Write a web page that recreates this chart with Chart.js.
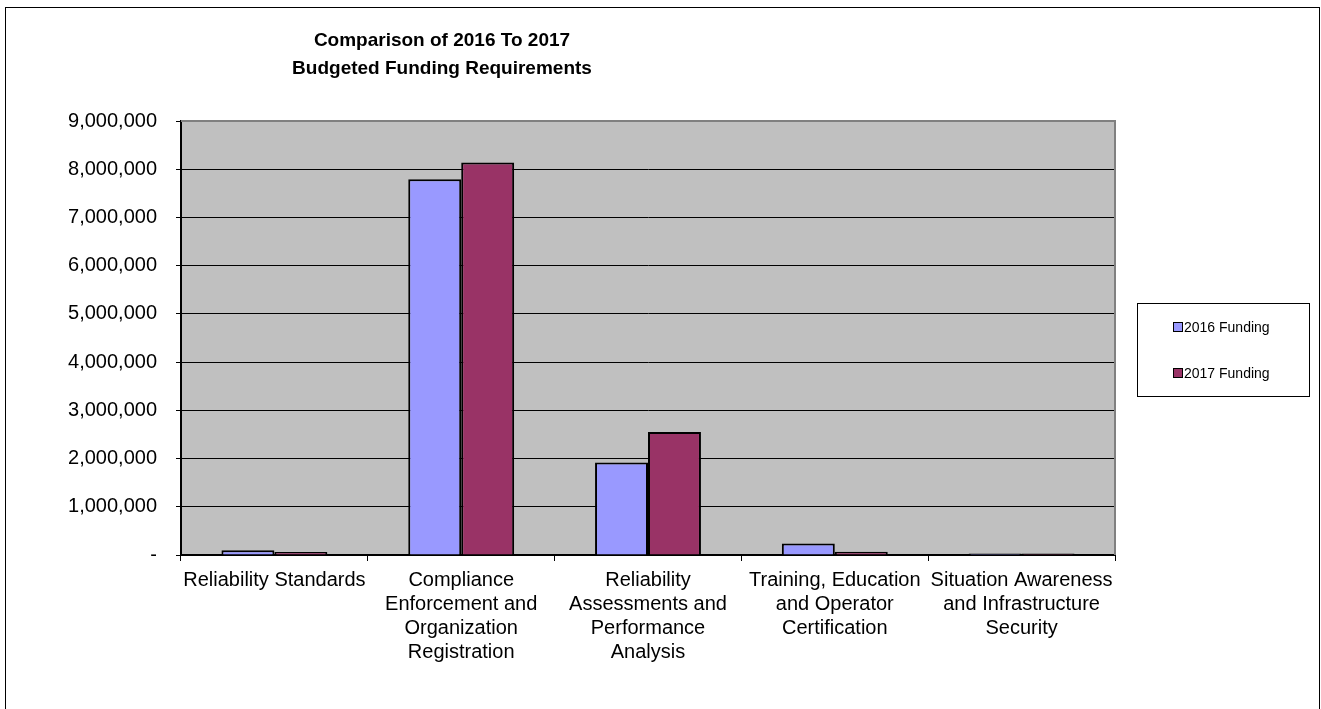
<!DOCTYPE html>
<html>
<head>
<meta charset="utf-8">
<script src="https://cdn.jsdelivr.net/npm/chart.js@4.4.1/dist/chart.umd.min.js"></script>
<style>
html,body{margin:0;padding:0;background:#fff;}
canvas{display:block;}
</style>
</head>
<body>
<canvas id="fundChart" width="1321" height="709"></canvas>
<script>
// chart values
const categories = [
  "Reliability Standards",
  ["Compliance","Enforcement and","Organization","Registration"],
  ["Reliability","Assessments and","Performance","Analysis"],
  ["Training, Education","and Operator","Certification"],
  ["Situation Awareness","and Infrastructure","Security"]
];
const funding2016 = [100000, 7790000, 1920000, 240000, 30000];
const funding2017 = [60000, 8140000, 2550000, 65000, 30000];
const seriesNames = ["2016 Funding", "2017 Funding"];
const titleLines = ["Comparison of 2016 To 2017", "Budgeted Funding Requirements"];
const yMax = 9000000;
const yStep = 1000000;

const FONT = "'Liberation Sans', Arial, sans-serif";

// background, plot area, outer frame, title and boxed legend
const framePlugin = {
  id: "frame",
  beforeDraw(chart){
    const ctx = chart.ctx;
    const a = chart.chartArea;
    ctx.save();
    ctx.fillStyle = "#fff";
    ctx.fillRect(0,0,chart.width,chart.height);
    ctx.fillStyle = "#c0c0c0";
    ctx.fillRect(a.left,a.top,a.right-a.left,a.bottom-a.top);
    ctx.restore();
  },
  afterDraw(chart){
    const ctx = chart.ctx;
    const a = chart.chartArea;
    ctx.save();

    // plot area border (top/right)
    ctx.strokeStyle = "#808080";
    ctx.lineWidth = 2;
    ctx.beginPath();
    ctx.moveTo(a.left,a.top);
    ctx.lineTo(a.right,a.top);
    ctx.lineTo(a.right,a.bottom);
    ctx.stroke();

    // outer frame
    ctx.strokeStyle = "#000";
    ctx.lineWidth = 1;
    ctx.strokeRect(5.5,7.5,1314,720);

    // title
    ctx.fillStyle = "#000";
    ctx.font = "bold 19px " + FONT;
    ctx.textAlign = "center";
    ctx.textBaseline = "middle";
    titleLines.forEach((t,i)=>{
      ctx.fillText(t,442,41+i*28);
    });

    // legend
    ctx.lineWidth = 1;
    ctx.strokeRect(1137.5,303.5,172,93);
    ctx.font = "14px " + FONT;
    ctx.textAlign = "left";
    chart.data.datasets.forEach((ds,i)=>{
      const y = 327+i*46;
      ctx.fillStyle = ds.backgroundColor;
      ctx.fillRect(1174,y-4,8,8);
      ctx.strokeStyle = "#000";
      ctx.strokeRect(1173.5,y-4.5,9,9);
      ctx.fillStyle = "#000";
      ctx.fillText(ds.label,1184,y+1);
    });

    ctx.restore();
  }
};

new Chart(document.getElementById("fundChart"),{
  type:"bar",
  data:{
    labels:categories,
    datasets:[
      {
        label:seriesNames[0],
        data:funding2016,
        backgroundColor:"#9999ff",
        borderColor:"#000",
        borderWidth:2
      },
      {
        label:seriesNames[1],
        data:funding2017,
        backgroundColor:"#993366",
        borderColor:"#000",
        borderWidth:2
      }
    ]
  },
  options:{
    responsive:false,
    animation:false,
    devicePixelRatio:1,
    categoryPercentage:0.567,
    barPercentage:1,
    layout:{padding:{left:0,top:121,right:206,bottom:0}},
    plugins:{
      legend:{display:false},
      title:{display:false},
      tooltip:{enabled:false}
    },
    scales:{
      x:{
        grid:{drawOnChartArea:false,color:"#000",tickLength:6,offset:true},
        border:{color:"#000",width:2},
        ticks:{
          color:"#000",
          font:{family:FONT,size:20,lineHeight:1.2},
          padding:7,
          maxRotation:0,
          autoSkip:false
        },
        afterFit(scale){ scale.height = 709-555; }
      },
      y:{
        min:0,
        max:yMax,
        grid:{color:"#000",lineWidth:1,tickLength:5},
        border:{color:"#000",width:2},
        ticks:{
          stepSize:yStep,
          color:"#000",
          font:{family:FONT,size:20},
          padding:19,
          callback:v => v===0 ? "-" : v.toLocaleString("en-US")
        },
        afterFit(scale){ scale.width = 181; }
      }
    }
  },
  plugins:[framePlugin]
});
</script>
</body>
</html>
